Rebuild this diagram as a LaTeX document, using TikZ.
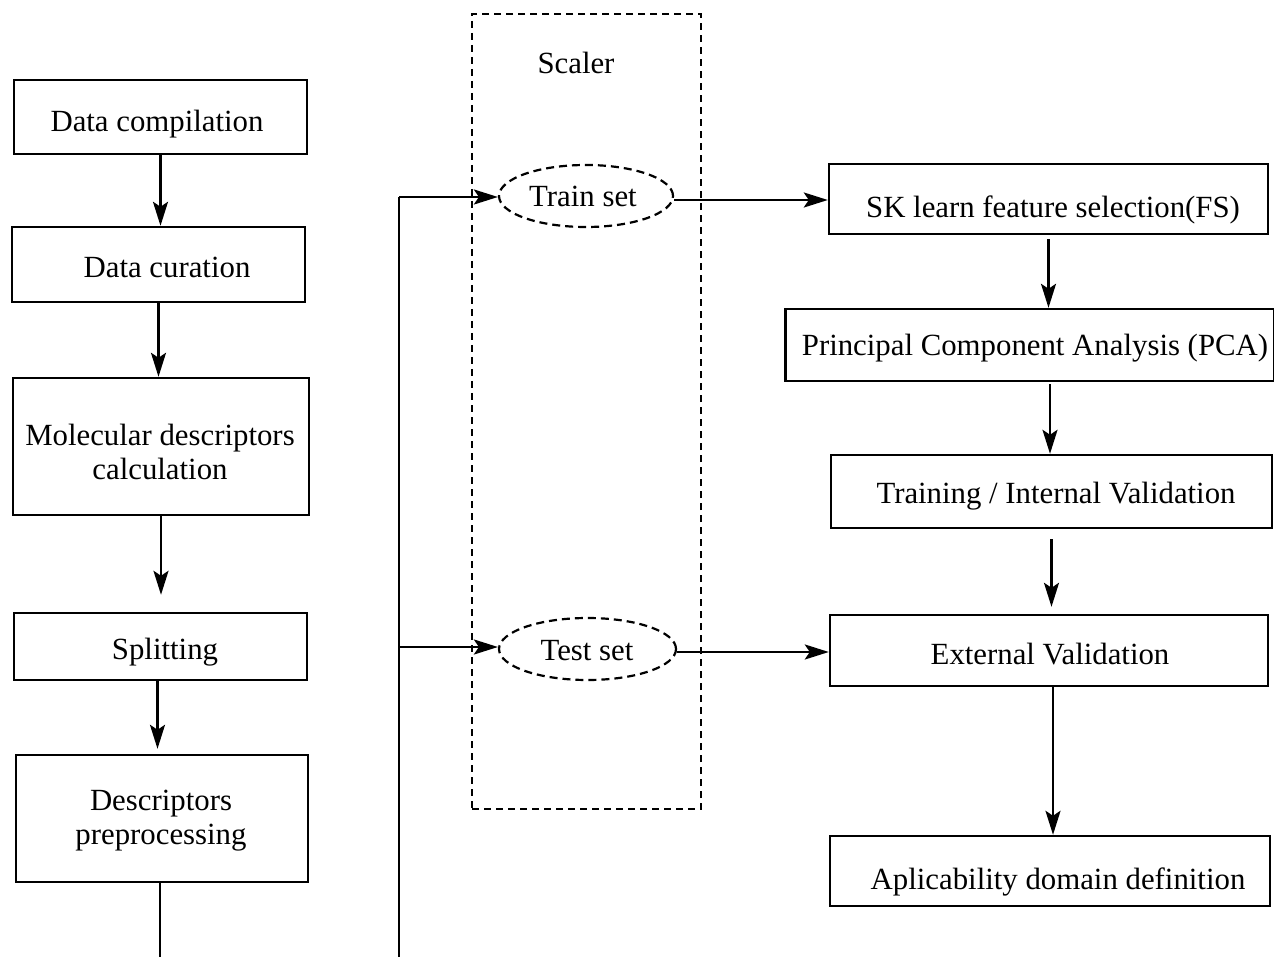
\documentclass[tikz,border=0pt]{standalone}
\usepackage{fontspec}
\setmainfont{Liberation Serif}
\usetikzlibrary{arrows.meta,shapes.geometric}
\begin{document}
\begin{tikzpicture}[x=1pt,y=-1pt,
  box/.style={draw,line width=2.4pt,inner sep=0pt},
  txt/.style={font=\fontsize{30.8}{36}\selectfont,inner sep=0pt,align=center},
  dashbox/.style={draw,line width=2.2pt,dash pattern=on 7pt off 5pt,inner sep=0pt},
  dashell/.style={draw,ellipse,line width=2.2pt,dash pattern=on 8pt off 5pt,inner sep=0pt},
  conn/.style={line width=2.4pt},
  arrow/.style={line width=2.4pt,-{Stealth[length=24pt,width=15pt,inset=5pt]}}]
\useasboundingbox (0,0) rectangle (1274,957);
% left column
\node[box,minimum width=293,minimum height=74] (dc) at (160.5,117) {};
\node[txt] (dct) at (157,124) {Data compilation};
\node[box,minimum width=293,minimum height=75] (cur) at (158.5,264.5) {};
\node[txt] (curt) at (167,267) {Data curation};
\node[box,minimum width=296,minimum height=137] (mol) at (161,446.5) {};
\node[txt] (molt) at (160,452) {Molecular descriptors\\[-2pt]calculation};
\node[box,minimum width=293,minimum height=67] (spl) at (160.5,646.5) {};
\node[txt] (splt) at (165,652) {Splitting};
\node[box,minimum width=292,minimum height=127] (pre) at (162,818.5) {};
\node[txt] (pret) at (161,821) {Descriptors\\[-2pt]preprocessing};
\coordinate (preend) at (160,957);
% scaler
\node[dashbox,minimum width=229,minimum height=795] (scaler) at (586.5,411.5) {};
\node[txt] (scalert) at (576,63) {Scaler};
\node[dashell,minimum width=174,minimum height=62] (train) at (586,196) {};
\node[txt] (traint) at (583,196) {Train set};
\node[dashell,minimum width=177,minimum height=62] (test) at (587.5,649) {};
\node[txt] (testt) at (587,651) {Test set};
\coordinate (vb) at (399,957);
\coordinate (vt) at (399,197);
\coordinate (vm) at (399,647);
% right column
\node[box,minimum width=439,minimum height=70] (sk) at (1048.5,199) {};
\node[txt] (skt) at (1053,210) {SK learn feature selection(FS)};
\node[box,minimum width=489,minimum height=72] (pca) at (1030,345) {};
\node[txt] (pcat) at (1035,348) {Principal Component Analysis (PCA)};
\node[box,minimum width=441,minimum height=73] (tr) at (1051.5,491.5) {};
\node[txt] (trt) at (1056,496) {Training / Internal Validation};
\node[box,minimum width=438,minimum height=71] (ext) at (1049,650.5) {};
\node[txt] (extt) at (1050,654) {External Validation};
\node[box,minimum width=440,minimum height=70] (ad) at (1050,871) {};
\node[txt] (adt) at (1058,882) {Aplicability domain definition};
% connectors left
\draw[arrow] (dc.south) -- (dc.south |- cur.north);
\draw[arrow] (cur.south) -- (cur.south |- mol.north);
\draw[arrow,shorten >=17pt] (mol.south) -- (mol.south |- spl.north);
\draw[arrow,shorten >=5pt] ([xshift=-3pt]spl.south) -- ([xshift=-3pt]spl.south |- pre.north);
\draw[conn] (pre.south -| preend) -- (preend);
% connectors middle
\draw[conn] (vb) -- (vt);
\draw[arrow] (vt) -- (vt -| train.west);
\draw[arrow] (vm) -- (vm -| test.west);
\draw[arrow] ([yshift=-4pt]train.east) -- ([yshift=-4pt]train.east -| sk.west);
\draw[arrow] ([yshift=-3pt]test.east) -- ([yshift=-3pt]test.east -| ext.west);
% connectors right
\draw[arrow,shorten <=4pt] (sk.south) -- (sk.south |- pca.north);
\draw[arrow,shorten <=2pt] ([xshift=20pt]pca.south) -- ([xshift=20pt]pca.south |- tr.north);
\draw[arrow,shorten <=10pt,shorten >=7pt] (tr.south) -- (tr.south |- ext.north);
\draw[arrow] ([xshift=4pt]ext.south) -- ([xshift=4pt]ext.south |- ad.north);
\end{tikzpicture}
\end{document}
